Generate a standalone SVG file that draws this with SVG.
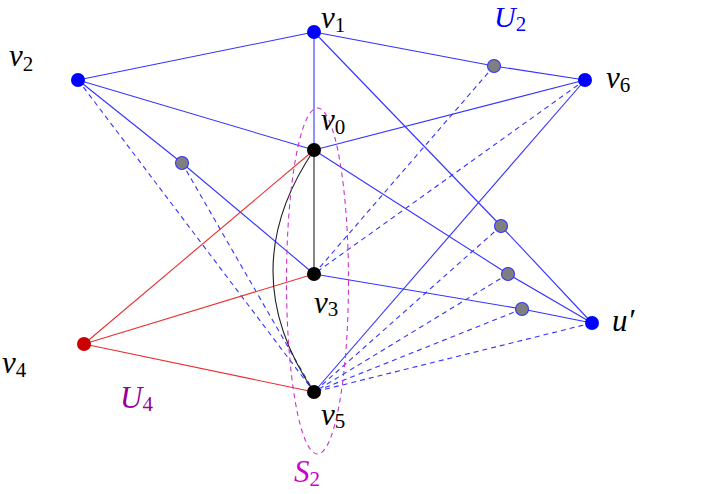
<svg xmlns="http://www.w3.org/2000/svg" width="708" height="494" viewBox="0 0 708 494">
<style>
.b{stroke:#3333ff;stroke-width:1.1;fill:none}
.bd{stroke:#3333ff;stroke-width:1.1;fill:none;stroke-dasharray:5 4}
.r{stroke:#e8302f;stroke-width:1.1;fill:none}
.k{stroke:#222;stroke-width:1.1;fill:none}
.m{stroke:#cc33cc;stroke-width:1.1;fill:none;stroke-dasharray:5 4}
.nb{fill:#0000ff}
.nk{fill:#000}
.nr{fill:#cc0000}
.ng{fill:#7f7f7f;stroke:#3333ff;stroke-width:1.1}
text{font-family:"Liberation Serif","DejaVu Serif",serif;font-style:italic;font-size:31px;fill:#000}
.s{font-style:normal;font-size:21px}
</style>
<g id="connectors">
<line class="b" x1="314" y1="32" x2="78" y2="80"/>
<line class="b" x1="314" y1="32" x2="494" y2="66"/>
<line class="b" x1="494" y1="66" x2="585" y2="80"/>
<line class="b" x1="314" y1="32" x2="314" y2="150"/>
<line class="b" x1="314" y1="32" x2="501" y2="226"/>
<line class="b" x1="501" y1="226" x2="592" y2="323"/>
<line class="b" x1="78" y1="80" x2="314" y2="150"/>
<line class="b" x1="78" y1="80" x2="182" y2="163"/>
<line class="b" x1="182" y1="163" x2="314" y2="274"/>
<line class="b" x1="314" y1="150" x2="585" y2="80"/>
<line class="b" x1="314" y1="150" x2="508" y2="274"/>
<line class="b" x1="508" y1="274" x2="592" y2="323"/>
<line class="b" x1="314" y1="274" x2="522" y2="309"/>
<line class="b" x1="522" y1="309" x2="592" y2="323"/>
<line class="b" x1="585" y1="80" x2="314" y2="392"/>
<line class="bd" x1="78" y1="80" x2="314" y2="392"/>
<line class="bd" x1="182" y1="163" x2="314" y2="392"/>
<line class="bd" x1="494" y1="66" x2="314" y2="274"/>
<line class="bd" x1="585" y1="80" x2="314" y2="274"/>
<line class="bd" x1="501" y1="226" x2="314" y2="392"/>
<line class="bd" x1="508" y1="274" x2="314" y2="392"/>
<line class="bd" x1="522" y1="309" x2="314" y2="392"/>
<line class="bd" x1="592" y1="323" x2="314" y2="392"/>
<line class="r" x1="84" y1="344" x2="314" y2="150"/>
<line class="r" x1="84" y1="344" x2="314" y2="274"/>
<line class="r" x1="84" y1="344" x2="314" y2="392"/>
<line class="k" x1="314" y1="150" x2="314" y2="274"/>
<path class="k" d="M314 150 Q232 271 314 392"/>
<ellipse class="m" cx="317.5" cy="281" rx="31" ry="173"/>
</g>
<g id="v1"><circle class="nb" cx="314" cy="32" r="7"/><text x="321" y="28">v<tspan class="s" dy="4">1</tspan></text></g>
<g id="v2"><circle class="nb" cx="78" cy="80" r="7"/><text x="9" y="66">v<tspan class="s" dy="5">2</tspan></text></g>
<g id="v6"><circle class="nb" cx="585" cy="80" r="7"/><text x="606" y="88">v<tspan class="s" dy="4">6</tspan></text></g>
<g id="v0"><circle class="nk" cx="314" cy="150" r="7"/><text x="321" y="130">v<tspan class="s" dy="4">0</tspan></text></g>
<g id="v3"><circle class="nk" cx="314" cy="274" r="7"/><text x="314" y="313">v<tspan class="s" dy="3">3</tspan></text></g>
<g id="v5"><circle class="nk" cx="314" cy="392" r="7"/><text x="321" y="425">v<tspan class="s" dy="3">5</tspan></text></g>
<g id="v4"><circle class="nr" cx="84" cy="344" r="7"/><text x="2" y="373">v<tspan class="s" dy="4">4</tspan></text></g>
<g id="u-prime"><circle class="nb" cx="592" cy="323" r="7"/><text x="612" y="331">u′</text></g>
<g id="g1"><circle class="ng" cx="494" cy="66" r="6.5"/></g>
<g id="g2"><circle class="ng" cx="182" cy="163" r="6.5"/></g>
<g id="g3"><circle class="ng" cx="501" cy="226" r="6.5"/></g>
<g id="g4"><circle class="ng" cx="508" cy="274" r="6.5"/></g>
<g id="g5"><circle class="ng" cx="522" cy="309" r="6.5"/></g>
<g id="U2"><text x="494" y="27" style="fill:#0000ff;font-size:30px">U<tspan class="s" dy="4" style="fill:#0000ff">2</tspan></text></g>
<g id="U4"><text x="120" y="408" style="fill:#990099">U<tspan class="s" dy="3" style="fill:#990099">4</tspan></text></g>
<g id="S2"><text x="294" y="482" style="fill:#cc00cc">S<tspan class="s" dy="4" style="fill:#cc00cc">2</tspan></text></g>
</svg>
